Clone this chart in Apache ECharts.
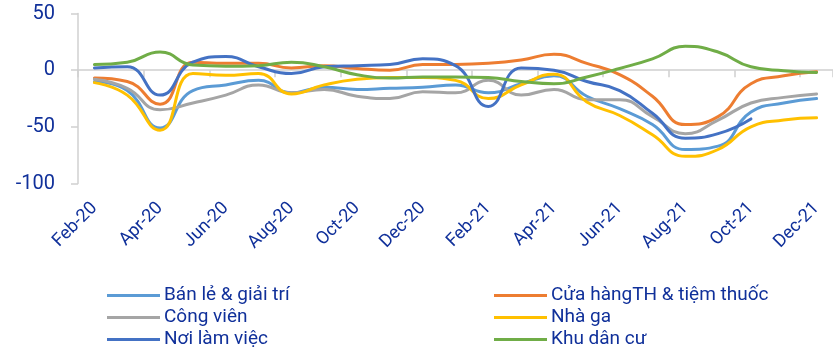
<!DOCTYPE html>
<html>
<head>
<meta charset="utf-8">
<script src="https://cdn.jsdelivr.net/npm/echarts@6/dist/echarts.min.js"></script>
<style>
  html, body { margin: 0; padding: 0; background: #ffffff; }
  #chart { width: 833px; height: 352px; }
</style>
</head>
<body>
<div id="chart"></div>
<script>
// Monthly mobility change (%) vs. baseline, Feb-2020 .. Dec-2021
const months = ['Feb-20','Mar-20','Apr-20','May-20','Jun-20','Jul-20','Aug-20','Sep-20','Oct-20','Nov-20','Dec-20','Jan-21',
                'Feb-21','Mar-21','Apr-21','May-21','Jun-21','Jul-21','Aug-21','Sep-21','Oct-21','Nov-21','Dec-21'];

const retail    = [-10, -18, -51, -18, -13, -9, -20, -15, -17, -16, -15, -13, -20, -12, -5, -23, -34, -48, -70, -67, -37, -29, -25];
const grocery   = [-7, -10, -30, 7, 6, 6, 2, 4, 1.5, 0, 5, 5, 6, 9, 14, 6, -4, -23, -48, -41, -12, -5, -1.5];
const parks     = [-8, -16, -35, -29, -22, -13, -20, -17, -23, -25, -19, -20, -9, -22, -17, -26, -26, -41, -56, -44, -29, -24, -21];
const transit   = [-11, -22, -53, -3, -4.5, -3, -21, -13, -8, -6.5, -6.5, -9, -25, -13, -3.5, -28, -40, -57, -76, -70, -50, -44, -42];
const workplace = [2, 3, -22, 7, 12, 3, -3, 3, 4, 5, 10, 4, -32, 2, 0, -10, -18, -38, -60, -56, -43, null, null];
const resident  = [5, 7, 16, 4.5, 3.5, 4, 7, 3, -4, -7, -6, -6, -6.5, -10, -12, -6, 1.5, 10, 21, 16, 3, -0.5, -2];

const seriesNames = ['Bán lẻ & giải trí', 'Cửa hàngTH & tiệm thuốc', 'Công viên', 'Nhà ga', 'Nơi làm việc', 'Khu dân cư'];
const yTicks = { min: -100, max: 50, step: 50 };

const palette = ['#5B9BD5', '#ED7D31', '#A5A5A5', '#FFC000', '#4472C4', '#70AD47'];
const textColor = '#10309A';
const axisGray = '#D0D0D0';
const fontFamily = 'Roboto, "Noto Sans", sans-serif';

const values = [retail, grocery, parks, transit, workplace, resident];

const chart = echarts.init(document.getElementById('chart'), null, { renderer: 'canvas' });

const series = values.map((arr, i) => ({
  name: seriesNames[i],
  type: 'line',
  xAxisIndex: 0,
  data: arr,
  smooth: 0.5,
  showSymbol: false,
  symbol: 'none',
  connectNulls: false,
  lineStyle: { width: 3, color: palette[i], cap: 'round', join: 'round' },
  itemStyle: { color: palette[i] },
  z: 2 + i
}));

const legendCommon = {
  orient: 'vertical',
  icon: 'rect',
  itemWidth: 53,
  itemHeight: 3,
  itemGap: 3,
  padding: 0,
  textStyle: { color: textColor, fontSize: 19, fontFamily: fontFamily, padding: [0, 0, 0, -1] },
  selectedMode: false
};

chart.setOption({
  animation: false,
  backgroundColor: '#ffffff',
  color: palette,
  grid: { left: 78, right: -9, top: 13.5, bottom: 168.5, containLabel: false },
  legend: [
    Object.assign({}, legendCommon, { left: 107, top: 286, data: [seriesNames[0], seriesNames[2], seriesNames[4]] }),
    Object.assign({}, legendCommon, { left: 494, top: 286, data: [seriesNames[1], seriesNames[3], seriesNames[5]] })
  ],
  xAxis: [
    {
      type: 'category',
      data: months,
      position: 'bottom',
      boundaryGap: true,
      axisLine: { show: false, onZero: false },
      axisTick: { show: false },
      axisLabel: {
        interval: 1,
        rotate: 45,
        margin: 22,
        color: textColor,
        fontSize: 18,
        fontFamily: fontFamily
      },
      splitLine: { show: false }
    },
    {
      type: 'category',
      data: months,
      position: 'bottom',
      boundaryGap: true,
      axisLine: { show: true, onZero: true, lineStyle: { color: axisGray, width: 1.5 } },
      axisTick: { show: true, interval: 1, length: 7, lineStyle: { color: axisGray, width: 1.5 } },
      axisLabel: { show: false },
      splitLine: { show: false }
    }
  ],
  yAxis: {
    type: 'value',
    min: yTicks.min,
    max: yTicks.max,
    interval: yTicks.step,
    axisLine: { show: true, lineStyle: { color: axisGray, width: 1.5 } },
    axisTick: { show: true, length: 7, lineStyle: { color: axisGray, width: 1.5 } },
    axisLabel: { margin: 23, color: textColor, fontSize: 20, fontFamily: fontFamily },
    splitLine: { show: false }
  },
  series: series
});
</script>
</body>
</html>
